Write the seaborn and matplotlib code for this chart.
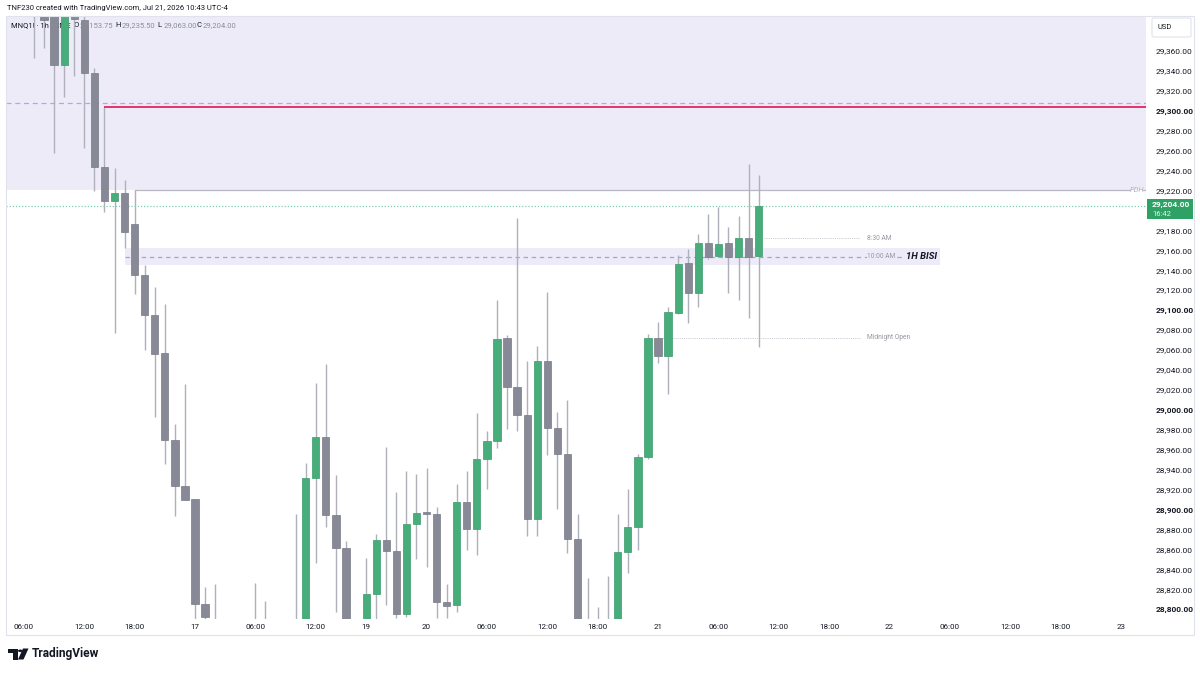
import numpy as np
import pandas as pd
import matplotlib
matplotlib.use("Agg")
import matplotlib.pyplot as plt
import seaborn as sns
from matplotlib.patches import Rectangle, Polygon, FancyBboxPatch, Circle

# ---------------- data (MNQ1! 1h) ----------------
opens = [29430, 29410, 29400, 29346, 29402, 29391, 29338, 29243, 29209, 29217,
         29186, 29135, 29095, 29057, 28970, 28924, 28911, 28805, 28790, 28775,
         28760, 28770, 28765, 28775, 28760, 28750, 28770, 28780, 28932, 28973,
         28895, 28861, 28785, 28785, 28815, 28869, 28858, 28795, 28886, 28897,
         28896, 28807, 28804, 28908, 28881, 28951, 28969, 29072, 29023, 28995,
         28891, 29049, 28982, 28956, 28870, 28782, 28770, 28778, 28785, 28857,
         28883, 28953, 29072, 29054, 29097, 29147, 29117, 29167, 29154, 29167,
         29153, 29172, 29153.75]
highs = [29445, 29420, 29412, 29415, 29410, 29398, 29343, 29304, 29242, 29230,
         29220, 29145, 29123, 29106, 28986, 29026, 28911, 28822, 28825, 28788,
         28785, 28788, 28826, 28808, 28785, 28780, 28896, 28947, 29027, 29046,
         28935, 28868, 28790, 28851, 28876, 28963, 28918, 28939, 28936, 28942,
         28903, 28825, 28926, 28939, 28997, 28979, 29110, 29075, 29192, 29049,
         29064, 29118, 28998, 29010, 28896, 28831, 28802, 28833, 28896, 28921,
         28956, 29076, 29088, 29103, 29155, 29161, 29176, 29196, 29203, 29183,
         29194, 29246, 29235.5]
lows = [29353, 29363, 29257, 29314, 29335, 29262, 29219, 29198, 29077, 29162,
        29116, 29060, 28993, 28946, 28894, 28910, 28775, 28780, 28760, 28750,
        28740, 28750, 28745, 28740, 28735, 28730, 28750, 28770, 28846, 28883,
        28797, 28770, 28760, 28775, 28788, 28804, 28791, 28792, 28850, 28842,
        28791, 28791, 28797, 28859, 28854, 28921, 28962, 28981, 28979, 28874,
        28874, 28955, 28901, 28856, 28770, 28755, 28760, 28765, 28775, 28836,
        28859, 28951, 29047, 29016, 29096, 29087, 29103, 29151, 29153, 29117,
        29110, 29092, 29063]
closes = [29410, 29391, 29346, 29402, 29392, 29338, 29243, 29209, 29217, 29178,
          29135, 29095, 29056, 28970, 28924, 28910, 28805, 28792, 28775, 28760,
          28770, 28765, 28775, 28760, 28750, 28770, 28780, 28932, 28973, 28895,
          28861, 28785, 28775, 28815, 28869, 28858, 28795, 28886, 28897, 28896,
          28807, 28803, 28908, 28881, 28951, 28969, 29071, 29023, 28995, 28891,
          29049, 28982, 28956, 28870, 28782, 28770, 28778, 28785, 28857, 28883,
          28953, 29072, 29054, 29098, 29146, 29117, 29167, 29153, 29166, 29153,
          29172, 29153, 29204]

tick_pos = [-1, 5, 10, 16, 22, 28, 33, 39, 45, 51, 56, 62, 68, 74, 79, 85, 91, 97, 102, 108]
tick_labels = ["06:00", "12:00", "18:00", "17", "06:00", "12:00", "19", "20", "06:00",
               "12:00", "18:00", "21", "06:00", "12:00", "18:00", "22", "06:00",
               "12:00", "18:00", "23"]
price_ticks = [28800, 28820, 28840, 28860, 28880, 28900, 28920, 28940, 28960, 28980,
               29000, 29020, 29040, 29060, 29080, 29100, 29120, 29140, 29160, 29180,
               29220, 29240, 29260, 29280, 29300, 29320, 29340, 29360]

pdh_level = 29220
red_level = 29304
dashed_level = 29308
last_price = 29204
bisi_top = 29162
bisi_bottom = 29145
bisi_mid = 29153.5
am830_level = 29172
midnight_open = 29072

df = pd.DataFrame({"o": opens, "h": highs, "l": lows, "c": closes})
df["i"] = np.arange(len(df))
df["up"] = df["c"] >= df["o"]

# ---------------- style ----------------
sns.set_theme(style="white")
plt.rcParams["font.family"] = ["Roboto", "DejaVu Sans"]

W, H = 1200, 673
fig = plt.figure(figsize=(W / 100, H / 100), dpi=100)
fig.patch.set_facecolor("white")

def fx(px):
    return px / W

def fy(py):
    return 1 - py / H

ax = fig.add_axes([fx(6), fy(619), fx(1146) - fx(6), fy(16) - fy(619)])
ax.set_facecolor("white")
ax.set_xlim(-2.78, 110.48)
ax.set_ylim(28790.3, 29394.8)
for s in ax.spines.values():
    s.set_visible(False)

GREEN = "#47ad7a"
GREEN_EDGE = "#3a9a6a"
GRAY = "#878a96"
GRAY_EDGE = "#767984"
WICK = "#aeb1ba"
LAV = "#eeebf8"

# zones
ax.axhspan(pdh_level, 29500, color=LAV, zorder=0.5, lw=0)
ax.add_patch(Rectangle((9, bisi_bottom), 90.0 - 9, bisi_top - bisi_bottom,
                       facecolor=LAV, edgecolor="none", zorder=0.5))

# lines
ax.axhline(dashed_level, color="#b8a4e3", lw=0.9, ls=(0, (4, 3)), zorder=1.5)
ax.plot([7, 110.48], [red_level, red_level], color="#e8245f", lw=1.3, zorder=4,
        solid_capstyle="butt")
ax.plot([10, 108.9], [pdh_level, pdh_level], color="#b7b9c2", lw=0.9, zorder=1.5)
ax.plot([110.2, 110.48], [pdh_level, pdh_level], color="#b7b9c2", lw=0.9, zorder=1.5)
ax.text(109.55, pdh_level, "PDH", fontsize=5.4, style="italic", color="#b2b5be",
        ha="center", va="center", zorder=2)
ax.axhline(last_price, color="#7fcfb0", lw=0.9, ls=(0, (1, 1.5)), zorder=1.5)
ax.plot([9, 86.5], [bisi_mid, bisi_mid], color="#ab9ddb", lw=0.9,
        ls=(0, (3.5, 3)), zorder=1.6)
ax.plot([72.5, 82.1], [am830_level, am830_level], color="#c3c5cc", lw=0.7,
        ls=(0, (1, 1.2)), zorder=1.6)
ax.plot([62, 82.1], [midnight_open, midnight_open], color="#c3c5cc", lw=0.7,
        ls=(0, (1, 1.2)), zorder=1.6)
ax.text(82.8, am830_level, "8:30 AM", fontsize=4.8, color="#9598a1", va="center", zorder=2)
ax.text(82.8, midnight_open, "Midnight Open", fontsize=4.8, color="#9598a1", va="center", zorder=2)
ax.text(82.8, bisi_mid, "10:00 AM", fontsize=4.8, color="#9598a1", va="center", zorder=2,
        bbox=dict(facecolor=LAV, edgecolor="none", pad=0.3))
ax.text(89.7, bisi_mid, "1H BISI", fontsize=6.8, color="#131722", va="center", ha="right",
        fontweight="bold", style="italic", zorder=2)

# candles
ax.vlines(df["i"], df["l"], df["h"], colors=WICK, lw=1.0, zorder=2.9)
body_bottom = np.minimum(df["o"], df["c"])
body_height = np.maximum(np.abs(df["c"] - df["o"]), 1.2)
ax.bar(df["i"], body_height, bottom=body_bottom, width=0.72,
       color=np.where(df["up"], GREEN, GRAY),
       edgecolor=np.where(df["up"], GREEN_EDGE, GRAY_EDGE), linewidth=0.5, zorder=3)

# ticks
ax.yaxis.tick_right()
ax.set_yticks(price_ticks)
ax.set_yticklabels([f"{p:,.2f}" for p in price_ticks])
for lab, p in zip(ax.get_yticklabels(), price_ticks):
    lab.set_fontsize(6.0)
    lab.set_color("#131722")
    if p % 100 == 0:
        lab.set_fontweight("bold")
ax.tick_params(axis="y", length=0, pad=7)
ax.set_xticks(tick_pos)
ax.set_xticklabels(tick_labels)
ax.tick_params(axis="x", length=0, pad=3.5, labelsize=5.8, labelcolor="#131722")
ax.grid(False)

# legend line (under candles)
ax.text(fx(11), fy(25), "MNQ1! · 1h · CME", transform=fig.transFigure, fontsize=5.5,
        color="#131722", va="center", zorder=1)
for px, letter, val in [(73.5, "O", "29,153.75"), (115.5, "H", "29,235.50"),
                        (157.5, "L", "29,063.00"), (196.5, "C", "29,204.00")]:
    ax.text(fx(px), fy(25), letter, transform=fig.transFigure, fontsize=5.5,
            color="#131722", va="center", zorder=1)
    ax.text(fx(px + 5.8), fy(25), val, transform=fig.transFigure, fontsize=5.5,
            color="#8a8d96", va="center", zorder=1)

# header
fig.text(fx(7), fy(8), "TNF230 created with TradingView.com, Jul 21, 2026 10:43 UTC-4",
         fontsize=5.5, color="#131722", va="center")

# outer frame
fig.patches.append(Rectangle((fx(5.5), fy(635)), fx(1194) - fx(5.5), fy(16) - fy(635),
                             transform=fig.transFigure, fill=False,
                             edgecolor="#e0e3eb", lw=0.8))

# USD box
fig.patches.append(FancyBboxPatch((fx(1152), fy(37)), fx(39), fy(18) - fy(37),
                                  boxstyle="round,pad=0,rounding_size=0.002",
                                  transform=fig.transFigure, facecolor="white",
                                  edgecolor="#e0e3eb", lw=0.8))
fig.text(fx(1157), fy(27.5), "USD", fontsize=5.4, color="#131722", va="center")

# last price tag
fig.patches.append(Rectangle((fx(1147), fy(219)), fx(46), fy(199) - fy(219),
                             transform=fig.transFigure, facecolor="#2ea265",
                             edgecolor="none"))
fig.text(fx(1152), fy(205), "29,204.00", fontsize=6.0, color="white", va="center",
         fontweight="bold")
fig.text(fx(1152), fy(214), "16:42", fontsize=5.4, color="#e6f5ec", va="center")

# TradingView logo
fig.patches.append(Polygon([(fx(7.5), fy(648.5)), (fx(17.5), fy(648.5)), (fx(17.5), fy(659.5)),
                            (fx(12.5), fy(659.5)), (fx(12.5), fy(653)), (fx(7.5), fy(653))],
                           closed=True, transform=fig.transFigure, facecolor="#131722",
                           edgecolor="none"))
fig.patches.append(Circle((fx(20.3), fy(650.8)), 0.0019, transform=fig.transFigure,
                          facecolor="#131722", edgecolor="none"))
fig.patches.append(Polygon([(fx(23.0), fy(648.5)), (fx(28.5), fy(648.5)), (fx(23.5), fy(659.5)),
                            (fx(18.0), fy(659.5))],
                           closed=True, transform=fig.transFigure, facecolor="#131722",
                           edgecolor="none"))
fig.text(fx(32), fy(654), "TradingView", fontsize=8.6, color="#131722", va="center",
         fontweight="bold")

fig.savefig("out.png", dpi=100, facecolor="white")
